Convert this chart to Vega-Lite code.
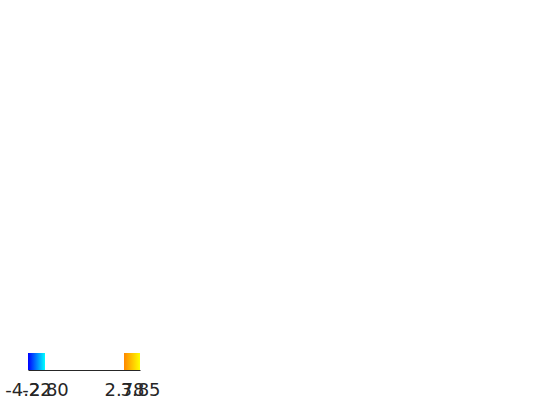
{
  "$schema": "https://vega.github.io/schema/vega-lite/v6.json",
  "description": "Colour bar with two shaded ranges and a blank middle.",
  "autosize": "none",
  "padding": {"left": 28, "top": 353, "right": 420, "bottom": 50},
  "width": 112,
  "height": 17,
  "background": "white",
  "config": {
    "view": {"stroke": null},
    "axis": {"labelOverlap": false}
  },
  "data": {
    "values": [
      {"segment": "low", "start": -4.22, "end": -2.8},
      {"segment": "high", "start": 2.78, "end": 3.85}
    ]
  },
  "encoding": {
    "x": {
      "field": "start",
      "type": "quantitative",
      "scale": {
        "domain": [-4.22, -2.8, 2.78, 3.85],
        "range": [0, 17, 96, 112],
        "nice": false,
        "zero": false
      },
      "axis": {
        "title": null,
        "values": [-4.22, -2.8, 2.78, 3.85],
        "labelExpr": "replace(format(datum.value, '.2f'), '\u2212', '-')",
        "labelOverlap": false,
        "labelFlush": false,
        "ticks": false,
        "tickSize": 0,
        "grid": false,
        "labelPadding": 11,
        "labelFont": "DejaVu Sans",
        "labelFontSize": 18,
        "labelColor": "#262626",
        "domainColor": "#262626",
        "domainWidth": 1.2
      }
    },
    "x2": {"field": "end"}
  },
  "layer": [
    {
      "transform": [{"filter": "datum.segment == 'low'"}],
      "mark": {
        "type": "rect",
        "fill": {
          "gradient": "linear",
          "x1": 0, "y1": 0, "x2": 1, "y2": 0,
          "stops": [
            {"offset": 0, "color": "#0000ff"},
            {"offset": 1, "color": "#00ffff"}
          ]
        }
      }
    },
    {
      "transform": [{"filter": "datum.segment == 'high'"}],
      "mark": {
        "type": "rect",
        "fill": {
          "gradient": "linear",
          "x1": 0, "y1": 0, "x2": 1, "y2": 0,
          "stops": [
            {"offset": 0, "color": "#ff8800"},
            {"offset": 1, "color": "#ffff00"}
          ]
        }
      }
    }
  ]
}
